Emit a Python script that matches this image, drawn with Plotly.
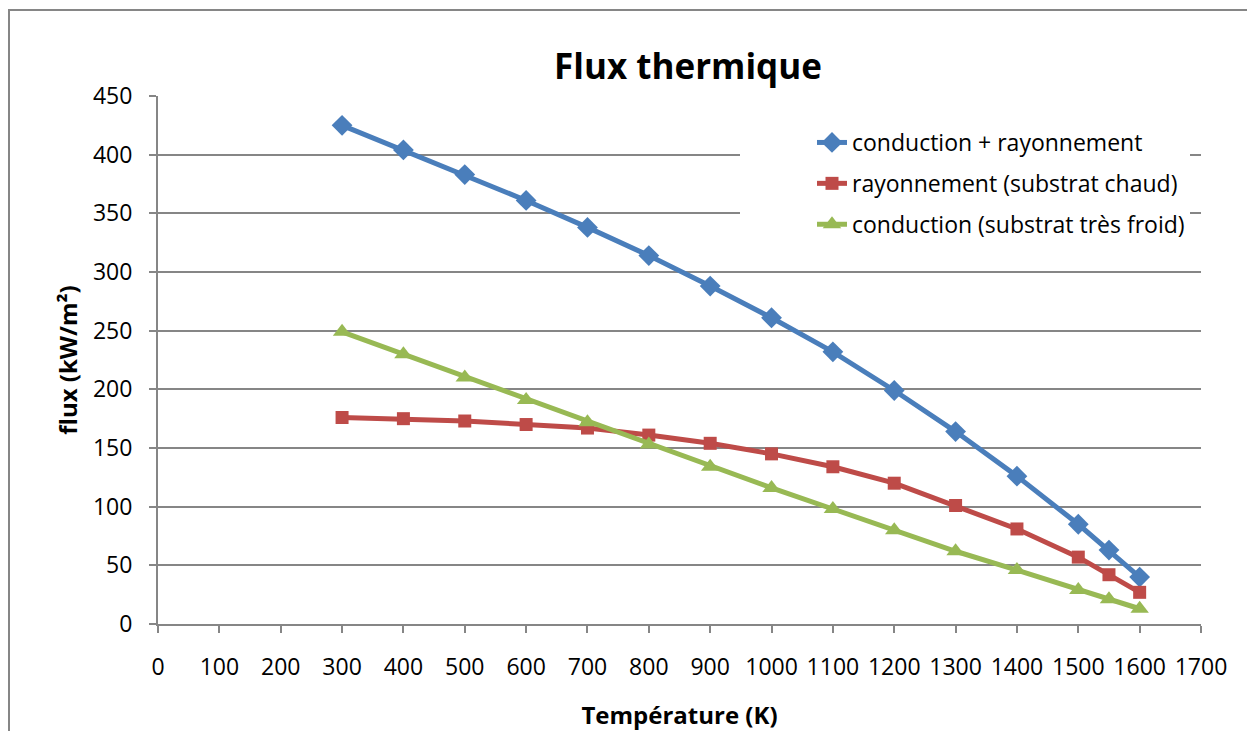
import plotly.graph_objects as go

temperature = [300, 400, 500, 600, 700, 800, 900, 1000, 1100, 1200, 1300, 1400, 1500, 1550, 1600]
conduction_rayonnement = [425, 404, 383, 361, 338, 314, 288, 261, 232, 199, 164, 126, 85, 63, 40]
rayonnement_chaud = [176, 175, 173, 170, 167, 161, 154, 145, 134, 120, 101, 81, 57, 42, 27]
conduction_froid = [249, 230, 210, 191, 172, 153, 134, 116, 98, 80, 62, 46, 29, 21, 13]

series = [
    ("conduction + rayonnement", conduction_rayonnement, "#4A7EBB", "diamond", 16),
    ("rayonnement (substrat chaud)", rayonnement_chaud, "#BE4B48", "square", 13),
    ("conduction (substrat très froid)", conduction_froid, "#98B954", "triangle-up", 16),
]

FONT = "Open Sans"
fig = go.Figure()
for i, (name, vals, color, sym, msize) in enumerate(series):
    fig.add_trace(go.Scatter(
        x=temperature, y=vals, name=name, mode="lines+markers",
        legendgroup=f"g{i}",
        line=dict(color=color, width=5),
        marker=dict(symbol=sym, size=msize, color=color),
    ))

# body margin of 8px offsets the figure; margins compensate
fig.update_layout(
    width=1255, height=731,
    margin=dict(l=150, r=62, t=88, b=115),
    paper_bgcolor="white", plot_bgcolor="white",
    font=dict(family=FONT, size=23, color="black"),
    title=dict(text="<b>Flux thermique</b>", x=(688 - 158) / 1043,
               xanchor="center", xref="paper",
               y=1 - (67 - 8) / 731, yanchor="middle",
               font=dict(family=FONT, size=35, color="black")),
    legend=dict(x=(740 - 158) / 1043, y=(624 - 121) / 528, xanchor="left", yanchor="top",
                bgcolor="white", font=dict(family=FONT, size=23),
                tracegroupgap=8, indentation=72),
    showlegend=True,
)
fig.update_xaxes(
    range=[0, 1700], tick0=0, dtick=100,
    showline=True, linecolor="#868686", linewidth=2,
    ticks="outside", ticklen=7, tickcolor="#868686", tickwidth=1.5,
    showgrid=False, zeroline=False, ticklabelstandoff=14,
    title=dict(text="<b>Température (K)</b>", standoff=27,
               font=dict(family=FONT, size=24)),
)
fig.update_yaxes(
    range=[0, 450], tick0=0, dtick=50,
    showline=True, linecolor="#868686", linewidth=2,
    ticks="outside", ticklen=7, tickcolor="#868686", tickwidth=1.5,
    showgrid=True, gridcolor="#868686", gridwidth=2, zeroline=False,
    ticklabelstandoff=12,
    title=dict(text="<b>flux (kW/m²)</b>", standoff=9,
               font=dict(family=FONT, size=24)),
)
fig.add_shape(type="rect", xref="paper", yref="paper",
              x0=(9 - 158) / 1043, x1=1.2, y0=-0.5, y1=(624 - 10) / 528,
              line=dict(color="#868686", width=2), layer="below")

fig.write_html("out.html")
